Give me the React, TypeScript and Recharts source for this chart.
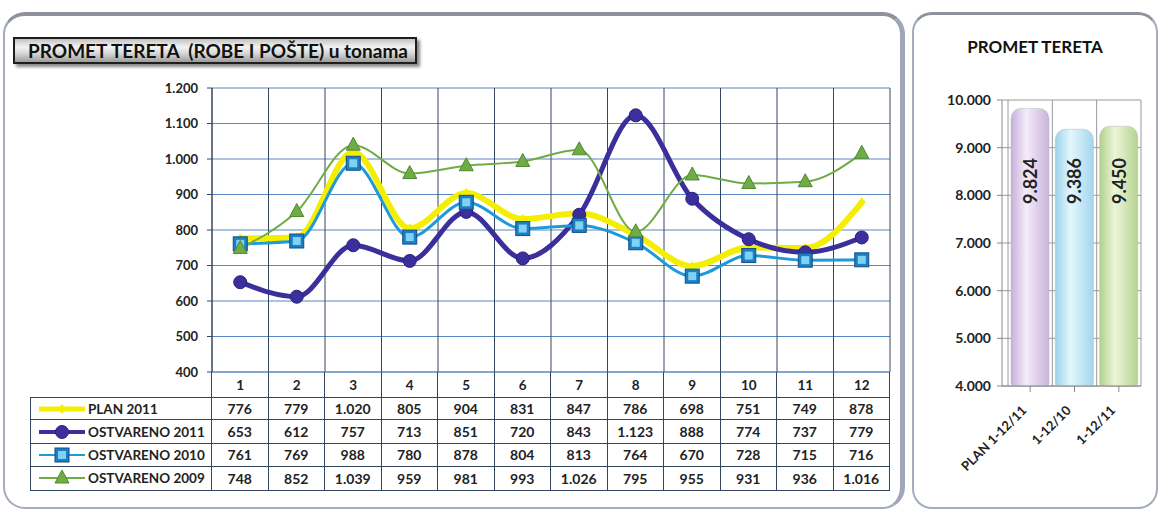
import React from "react";
import {
  LineChart, Line, XAxis, YAxis, CartesianGrid,
  BarChart, Bar, Cell, LabelList,
} from "recharts";

// monthly data (tonnes)
const MONTHS = ["1", "2", "3", "4", "5", "6", "7", "8", "9", "10", "11", "12"];
const PLAN_2011 = [776, 779, 1020, 805, 904, 831, 847, 786, 698, 751, 749, 878];
const OSTVARENO_2011 = [653, 612, 757, 713, 851, 720, 843, 1123, 888, 774, 737, 779];
const OSTVARENO_2010 = [761, 769, 988, 780, 878, 804, 813, 764, 670, 728, 715, 716];
const OSTVARENO_2009 = [748, 852, 1039, 959, 981, 993, 1026, 795, 955, 931, 936, 1016];
const LINE_TICKS = [400, 500, 600, 700, 800, 900, 1000, 1100, 1200];

// yearly totals
const TOTAL_LABELS = ["PLAN 1-12/11", "1-12/10", "1-12/11"];
const TOTALS = [9824, 9386, 9450];
const TOTAL_TICKS = [4000, 5000, 6000, 7000, 8000, 9000, 10000];

const FONT = "Lato, 'Open Sans', sans-serif";
const GRID_DARK = "#34465f";
const GRID_BLUE = "#5b87c2";

const fmt = (n: number) =>
  n >= 1000 ? `${Math.floor(n / 1000)}.${String(n % 1000).padStart(3, "0")}` : String(n);

type Kind = "diamond" | "circle" | "square" | "triangle";

const SERIES: { key: string; name: string; values: number[]; color: string; width: number; kind: Kind }[] = [
  { key: "plan2011", name: "PLAN 2011", values: PLAN_2011, color: "#f4ef00", width: 6, kind: "diamond" },
  { key: "ostv2011", name: "OSTVARENO 2011", values: OSTVARENO_2011, color: "#3b2f9c", width: 5, kind: "circle" },
  { key: "ostv2010", name: "OSTVARENO 2010", values: OSTVARENO_2010, color: "#1f9ad9", width: 3, kind: "square" },
  { key: "ostv2009", name: "OSTVARENO 2009", values: OSTVARENO_2009, color: "#6fac46", width: 2, kind: "triangle" },
];

const lineData = MONTHS.map((m, i) => {
  const row: any = { month: m };
  SERIES.forEach((s) => (row[s.key] = s.values[i]));
  return row;
});

const barData = TOTAL_LABELS.map((name, i) => ({ name, value: TOTALS[i] }));
const BAR_FILLS = ["url(#gPlan)", "url(#gBlue)", "url(#gGreen)"];

function drawMarker(kind: Kind, color: string, cx: number, cy: number, key?: string) {
  switch (kind) {
    case "circle":
      return <circle key={key} cx={cx} cy={cy} r={6.5} fill={color} stroke="#2a2080" strokeWidth={1} />;
    case "square":
      return (
        <g key={key}>
          <rect x={cx - 7} y={cy - 7} width={14} height={14} fill="#1c7fc4" stroke="#134f85" strokeWidth={1} />
          <rect x={cx - 4} y={cy - 4} width={8} height={8} fill="#7fd2f6" />
        </g>
      );
    case "triangle":
      return <polygon key={key} points={`${cx},${cy - 8} ${cx - 7},${cy + 5} ${cx + 7},${cy + 5}`} fill={color} stroke="#4f8a30" strokeWidth={1} />;
    default:
      return <polygon key={key} points={`${cx},${cy - 5} ${cx + 4},${cy} ${cx},${cy + 5} ${cx - 4},${cy}`} fill={color} />;
  }
}

const dotFor = (kind: Kind, color: string) => (p: any) =>
  drawMarker(kind, color, p.cx, p.cy, `${kind}-${p.index}`);

const boundaries = (n: number, pad = 0) => (p: any) =>
  Array.from({ length: n + 1 }, (_, i) => p.offset.left + pad + (i * (p.offset.width - pad)) / n);

const RotTick = (p: any) => (
  <g transform={`translate(${p.x - 6},${p.y + 14}) rotate(-45)`}>
    <text textAnchor="end" dy="0.35em" fontSize={13} fontWeight={700} fill="#222" fontFamily={FONT}>
      {p.payload.value}
    </text>
  </g>
);

// value labels sit at the same height in every bar
const BarValue = (p: any) => {
  const cx = p.x + p.width / 2;
  const y = 158;
  return (
    <text x={cx} y={y} transform={`rotate(-90, ${cx}, ${y})`} textAnchor="end" dominantBaseline="central"
      fontSize={18} fontWeight={700} fill="#222" fontFamily={FONT}>
      {fmt(p.value)}
    </text>
  );
};

const COL_W = 678 / 12;
const BAR_PAD = 6;

export default function App() {
  const cellBase: React.CSSProperties = {
    boxSizing: "border-box", borderRight: `1px solid ${GRID_DARK}`, height: 23.4,
    display: "flex", alignItems: "center", justifyContent: "center",
    fontSize: 14, fontWeight: 700, color: "#222",
  };
  return (
    <div style={{ position: "absolute", left: 0, top: 0, width: 1163, height: 516, background: "#fff", fontFamily: FONT, overflow: "hidden" }}>
      {/* panels */}
      <div style={{ position: "absolute", left: 3, top: 12, width: 902, height: 497, boxSizing: "border-box", border: "2px solid #a3acbd", borderTop: "4px solid #8d929b", borderRight: "5px solid #9ea6b8", borderRadius: 22 }} />
      <div style={{ position: "absolute", left: 912, top: 12, width: 246, height: 497, boxSizing: "border-box", border: "2px solid #a3acbd", borderTop: "3px solid #8d929b", borderRadius: 20 }} />

      {/* title */}
      <div style={{ position: "absolute", left: 13, top: 37, width: 404, height: 27, boxSizing: "border-box", border: "2px solid #1e1e1e",
        background: "linear-gradient(#c4c4c4, #f2f2f2 35%, #dadada 60%, #9c9c9c)", boxShadow: "3px 3px 3px #888", display: "flex", alignItems: "center",
        paddingLeft: 13, fontSize: 19, fontWeight: 700, color: "#111", whiteSpace: "pre" }}>
        {"PROMET TERETA  (ROBE I POŠTE) u tonama"}
      </div>

      {/* line chart */}
      <div style={{ position: "absolute", left: 0, top: 0 }}>
        <LineChart width={905} height={400} data={lineData} margin={{ top: 88, right: 15, left: 152, bottom: 8 }}>
          <CartesianGrid vertical={false} stroke={GRID_BLUE} strokeWidth={1} />
          <CartesianGrid horizontal={false} stroke={GRID_DARK} strokeWidth={1} verticalCoordinatesGenerator={boundaries(12)} />
          <XAxis dataKey="month" padding={{ left: COL_W / 2, right: COL_W / 2 }} tickLine={false} axisLine={{ stroke: GRID_BLUE }}
            interval={0} tick={{ fontSize: 13.5, fontWeight: 700, fill: "#222", fontFamily: FONT }} height={20} />
          <YAxis domain={[400, 1200]} ticks={LINE_TICKS} width={60} tickFormatter={fmt} tickSize={5} tickMargin={9}
            axisLine={{ stroke: GRID_DARK }} tickLine={{ stroke: GRID_DARK }}
            tick={{ fontSize: 13, fontWeight: 700, fill: "#222", fontFamily: FONT }} />
          {SERIES.map((s) => (
            <Line key={s.key} dataKey={s.key} name={s.name} type="monotone" stroke={s.color} strokeWidth={s.width}
              dot={dotFor(s.kind, s.color)} activeDot={false} isAnimationActive={false} />
          ))}
        </LineChart>
      </div>

      {/* data table under the line chart */}
      <div style={{ position: "absolute", left: 30, top: 372, display: "grid", gridTemplateColumns: `182px repeat(12, ${COL_W}px)` }}>
        <div style={{ ...cellBase, height: 25 }} />
        {MONTHS.map((m) => <div key={"h" + m} style={{ ...cellBase, height: 25 }} />)}
        {SERIES.map((s, r) => (
          <React.Fragment key={s.key}>
            <div style={{ ...cellBase, justifyContent: "flex-start", fontSize: 13.5, borderLeft: `1px solid ${GRID_DARK}`, borderTop: r === 0 ? `1px solid ${GRID_DARK}` : undefined, borderBottom: `1px solid ${GRID_DARK}` }}>
              <svg width={50} height={16} style={{ marginLeft: 6, marginRight: 1 }}>
                <line x1={2} x2={48} y1={8} y2={8} stroke={s.color} strokeWidth={Math.max(2, s.width - 1)} />
                {drawMarker(s.kind, s.color, 25, 8)}
              </svg>
              <span>{s.name}</span>
            </div>
            {s.values.map((v, i) => (
              <div key={i} style={{ ...cellBase, borderTop: r === 0 ? `1px solid ${GRID_DARK}` : undefined, borderBottom: `1px solid ${GRID_DARK}` }}>{fmt(v)}</div>
            ))}
          </React.Fragment>
        ))}
      </div>

      {/* right panel */}
      <div style={{ position: "absolute", left: 912, top: 36, width: 246, textAlign: "center", fontSize: 17, fontWeight: 700, color: "#111" }}>
        PROMET TERETA
      </div>
      <div style={{ position: "absolute", left: 912, top: 0 }}>
        <BarChart width={245} height={500} data={barData} margin={{ top: 100, right: 16, left: 30, bottom: 24 }} barSize={38}>
          <defs>
            <linearGradient id="gPlan" x1="0" x2="1" y1="0" y2="0">
              <stop offset="0" stopColor="#c6b0da" />
              <stop offset="0.4" stopColor="#f4ecfa" />
              <stop offset="1" stopColor="#c9b3dc" />
            </linearGradient>
            <linearGradient id="gBlue" x1="0" x2="1" y1="0" y2="0">
              <stop offset="0" stopColor="#9ed2ec" />
              <stop offset="0.4" stopColor="#e3f7fd" />
              <stop offset="1" stopColor="#a3d6ee" />
            </linearGradient>
            <linearGradient id="gGreen" x1="0" x2="1" y1="0" y2="0">
              <stop offset="0" stopColor="#b3cf8b" />
              <stop offset="0.4" stopColor="#ebf6d9" />
              <stop offset="1" stopColor="#b7d290" />
            </linearGradient>
          </defs>
          <CartesianGrid stroke="#9a9a9a" verticalCoordinatesGenerator={boundaries(3, BAR_PAD)} />
          <XAxis dataKey="name" interval={0} padding={{ left: BAR_PAD, right: 0 }} tick={<RotTick />} height={90}
            tickLine={{ stroke: "#888" }} axisLine={{ stroke: "#888" }} />
          <YAxis domain={[4000, 10000]} ticks={TOTAL_TICKS} width={60} tickFormatter={fmt} tickSize={5} tickMargin={6}
            axisLine={{ stroke: "#888" }} tickLine={{ stroke: "#888" }}
            tick={{ fontSize: 14, fontWeight: 700, fill: "#222", fontFamily: FONT }} />
          <Bar dataKey="value" radius={[10, 10, 3, 3]} stroke="#b8b8b8" strokeWidth={0.5} isAnimationActive={false}>
            {barData.map((d, i) => <Cell key={d.name} fill={BAR_FILLS[i]} />)}
            <LabelList dataKey="value" content={<BarValue />} />
          </Bar>
        </BarChart>
      </div>
    </div>
  );
}
